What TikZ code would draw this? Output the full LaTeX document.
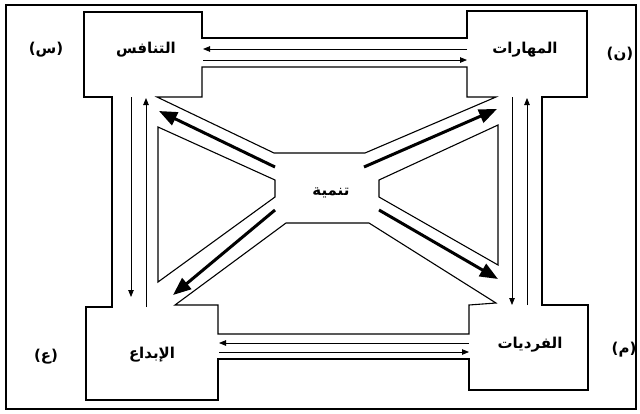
\documentclass[tikz,border=0pt]{standalone}
\usepackage{fontspec}
\usepackage{tikz}
\usetikzlibrary{arrows.meta}
\TeXXeTstate=1
\newfontfamily\arabicfont[Script=Arabic]{DejaVu Sans}
\newfontfamily\parfont{DejaVu Sans}
\tikzset{
  frm/.style={line width=1.6pt},
  wall/.style={line width=1.1pt, line join=miter},
  tarr/.style={-{Triangle[length=7pt,width=5.5pt]}, line width=0.8pt},
  darr/.style={-{Triangle[length=18pt,width=14pt]}, line width=3pt},
  ttl/.style={font=\arabicfont\bfseries\fontsize{15}{17}\selectfont, inner sep=1pt},
  lbl/.style={font=\parfont\bfseries\fontsize{15}{17}\selectfont, inner sep=1pt},
}

\begin{document}
\begin{tikzpicture}[x=1pt, y=-1pt]
  \useasboundingbox (0,0) rectangle (640,413);
  \draw[frm] (6,5) rectangle (636,409);
  % outline of boxes and channels
  \draw[wall] (84,12) -- (202,12) -- (202,38) -- (467,38) -- (467,11) -- (587,11)
    -- (587,97) -- (542,97) -- (542,305) -- (588,305) -- (588,390) -- (469,390)
    -- (469,359) -- (218,359) -- (218,400) -- (86,400) -- (86,307) -- (112,307)
    -- (112,97) -- (84,97) -- cycle;
  \draw[wall] (202,67) -- (467,67) -- (467,97) -- (496,97) -- (365,153) -- (274,153)
    -- (157,97) -- (202,97) -- cycle;
  \draw[wall] (158,127) -- (275,180) -- (275,197) -- (158,282) -- cycle;
  \draw[wall] (498,125) -- (379,180) -- (379,197) -- (498,265) -- cycle;
  \draw[wall] (286,223) -- (369,223) -- (496,303) -- (469,305) -- (469,334)
    -- (218,334) -- (218,305) -- (175,305) -- cycle;

  \node[ttl] (tanafus) at (146,50) {\beginR التنافس\endR};
  \node[ttl] (maharat) at (525,50) {\beginR المهارات\endR};
  \node[ttl] (ibdaa) at (152,355) {\beginR الإبداع\endR};
  \node[ttl] (fardiyat) at (530,345) {\beginR الفرديات\endR};
  \node[ttl] (tanmiya) at (331,193) {\beginR تنمية\endR};

  \node[lbl] (sin) at (46,50) {({\arabicfont س})};
  \node[lbl] (nun) at (620,54) {({\arabicfont ن})};
  \node[lbl] (ayn) at (46,357) {({\arabicfont ع})};
  \node[lbl] (mim) at (624,350) {({\arabicfont م})};

  % channel ends
  \coordinate (tlR1) at (203,49);  \coordinate (trL1) at (467,49);
  \coordinate (tlR2) at (203,60);  \coordinate (trL2) at (467,60);
  \coordinate (blR1) at (219,343); \coordinate (brL1) at (469,343);
  \coordinate (blR2) at (219,352); \coordinate (brL2) at (469,352);
  \coordinate (tlB1) at (131,97);  \coordinate (blT1) at (131,297);
  \coordinate (tlB2) at (146,98);  \coordinate (blT2) at (146,307);
  \coordinate (trB1) at (512,97);  \coordinate (brT1) at (512,305);
  \coordinate (trB2) at (527,98);  \coordinate (brT2) at (527,305);
  \coordinate (cUL) at (275,167);  \coordinate (eUL) at (159,111);
  \coordinate (cUR) at (364,167);  \coordinate (eUR) at (497,109);
  \coordinate (cLL) at (275,210);  \coordinate (eLL) at (173,295);
  \coordinate (cLR) at (379,210);  \coordinate (eLR) at (498,279);

  \draw[tarr] (trL1) -- (tlR1);
  \draw[tarr] (tlR2) -- (trL2);
  \draw[tarr] (brL1) -- (blR1);
  \draw[tarr] (blR2) -- (brL2);
  \draw[tarr] (tlB1) -- (blT1);
  \draw[tarr] (blT2) -- (tlB2);
  \draw[tarr] (trB1) -- (brT1);
  \draw[tarr] (brT2) -- (trB2);

  \draw[darr] (cUL) -- (eUL);
  \draw[darr] (cUR) -- (eUR);
  \draw[darr] (cLL) -- (eLL);
  \draw[darr] (cLR) -- (eLR);
\end{tikzpicture}
\end{document}
